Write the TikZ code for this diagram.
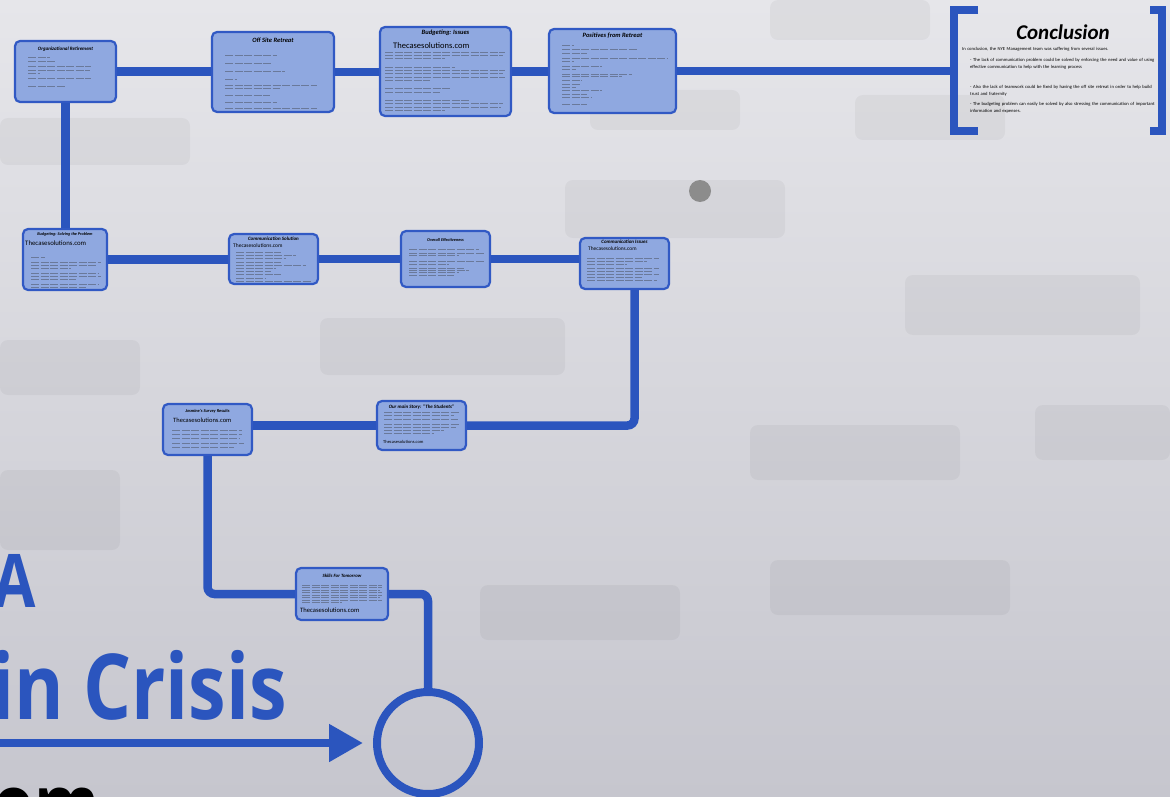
\documentclass[tikz,border=0pt]{standalone}
\usepackage{fontspec}
\setmainfont{Carlito}
\newfontfamily\headfont{Open Sans}
\usetikzlibrary{arrows.meta}

\definecolor{trackblue}{HTML}{2B55BE}
\definecolor{cardfill}{HTML}{8FA8E0}
\definecolor{cardedge}{HTML}{3159C4}
\definecolor{bgtop}{HTML}{E6E6EA}
\definecolor{bgbot}{HTML}{C6C6CE}

\pgfdeclarelayer{back}
\pgfsetlayers{back,main}

\tikzset{
  card/.style={draw=cardedge, line width=2.2pt, fill=cardfill, rounded corners=5pt,
    anchor=north west, inner sep=0pt, outer sep=0pt},
  track/.style={draw=trackblue, line width=8.5pt, rounded corners=7pt},
  ctitle/.style={anchor=north, inner sep=0pt, font=\bfseries\itshape\fontsize{#1}{#1}\selectfont},
  ctitle/.default=5,
  website/.style={anchor=north west, inner sep=0pt, font=\fontsize{#1}{#1}\selectfont},
  txtline/.style={draw=black!80, line width=0.6pt, opacity=0.4, dash pattern=on 8pt off 1.5pt},
  ghost/.style={fill=black, opacity=0.04, rounded corners=8pt},
  bigword/.style={text=trackblue, inner sep=0pt, xscale=0.83},
  concbody/.style={anchor=north west, inner sep=0pt, text width=#1,
    font=\fontsize{4.6}{7}\selectfont},
}

% rows of unreadable body text
\newcommand{\textrows}[2]{\foreach \ry/\rw in {#2} {\draw[txtline] (#1,\ry) -- ++(\rw,0);}}

\begin{document}
\begin{tikzpicture}[x=1pt, y=-1pt]
\useasboundingbox (0,0) rectangle (1170,797);

\begin{pgfonlayer}{back}
  \shade[top color=bgtop, bottom color=bgbot] (0,0) rectangle (1170,797);
  \foreach \ax/\ay/\bx/\by in {0/118/190/165, 770/0/930/40, 855/95/1005/140,
      590/90/740/130, 565/180/785/238, 905/275/1140/335, 320/318/565/375,
      0/340/140/395, 1035/405/1170/460, 750/425/960/480, 0/470/120/550,
      770/560/1010/615, 480/585/680/640}
    \fill[ghost] (\ax,\ay) rectangle (\bx,\by);
  \fill[black!45] (700,191) circle (11);
\end{pgfonlayer}

% cards, top row
\node[card, minimum width=101pt, minimum height=61pt] (orgret) at (15,41) {};
\node[card, minimum width=122pt, minimum height=80pt] (offsite) at (212,32) {};
\node[card, minimum width=131pt, minimum height=89pt] (budiss) at (380,27) {};
\node[card, minimum width=127pt, minimum height=84pt] (posret) at (549,29) {};
% second row
\node[card, minimum width=84pt, minimum height=61pt] (budsolv) at (23,229) {};
\node[card, minimum width=89pt, minimum height=50pt] (commsol) at (229,234) {};
\node[card, minimum width=89pt, minimum height=56pt] (overall) at (401,231) {};
\node[card, minimum width=89pt, minimum height=51pt] (commiss) at (580,238) {};
% third row
\node[card, minimum width=89pt, minimum height=51pt] (jasmine) at (163,404) {};
\node[card, minimum width=89pt, minimum height=49pt] (mainstory) at (377,401) {};
\node[card, minimum width=92pt, minimum height=52pt] (skills) at (296,568) {};

\node[draw=trackblue, line width=8pt, circle, minimum size=102pt, inner sep=0pt] (crcl) at (428,743) {};
\coordinate (lbr) at (954,71);
\coordinate (arrowstart) at (-10,743);

\begin{pgfonlayer}{back}
  \draw[track] (orgret.east) -- (offsite.west |- orgret.east);
  \draw[track] (offsite.east) -- (budiss.west |- offsite.east);
  \draw[track] (budiss.east) -- (posret.west |- budiss.east);
  \draw[track] (posret.east) -- (lbr |- posret.east);
  \draw[track] (orgret.south) -- (orgret.south |- budsolv.north);
  \draw[track] (budsolv.east) -- (commsol.west |- budsolv.east);
  \draw[track] (commsol.east) -- (overall.west |- commsol.east);
  \draw[track] (overall.east) -- (commiss.west |- overall.east);
  \draw[track] ([xshift=10pt]commiss.south) |- (mainstory.east);
  \draw[track] (mainstory.west) -- (jasmine.east |- mainstory.west);
  \draw[track] (jasmine.south) |- (skills.west);
  \draw[track] (skills.east) -| (crcl.north);
\end{pgfonlayer}
\draw[track, line width=8pt, -{Triangle[length=34pt, width=36pt]}, shorten >=10pt] (arrowstart) -- (crcl.west);

% conclusion brackets
\draw[track, rounded corners=0pt] (978,10) -- (954,10) -- (954,131) -- (978,131);
\draw[track, rounded corners=0pt] (1150,10) -- (1162,10) -- (1162,131) -- (1150,131);

% titles
\node[ctitle=5] (orgret-t) at ([yshift=-6pt]orgret.north) {Organizational Retirement};
\node[ctitle=6.5] (offsite-t) at ([yshift=-6pt]offsite.north) {Off Site Retreat};
\node[ctitle=6.5] (budiss-t) at ([yshift=-2.5pt]budiss.north) {Budgeting: Issues};
\node[ctitle=6.5] (posret-t) at ([yshift=-4pt]posret.north) {Positives from Retreat};
\node[ctitle=4.2] (budsolv-t) at ([yshift=-3.5pt]budsolv.north) {Budgeting: Solving the Problem};
\node[ctitle=5] (commsol-t) at ([yshift=-2.5pt]commsol.north) {Communication Solution};
\node[ctitle=4.3] (overall-t) at ([yshift=-7pt]overall.north) {Overall Effectiveness};
\node[ctitle=5] (commiss-t) at ([yshift=-2pt]commiss.north) {Communication Issues};
\node[ctitle=4.4] (jasmine-t) at ([yshift=-5pt]jasmine.north) {Jasmine's Survey Results};
\node[ctitle=5] (mainstory-t) at ([yshift=-3.5pt]mainstory.north) {Our main Story: ``The Students''};
\node[ctitle=4.8] (skills-t) at ([yshift=-5.5pt]skills.north) {Skills For Tomorrow};

% web address lines
\node[website=8.5] (budiss-w) at (393,42) {Thecasesolutions.com};
\node[website=6.8] (budsolv-w) at (25,241) {Thecasesolutions.com};
\node[website=5.5] (commsol-w) at (233,243) {Thecasesolutions.com};
\node[website=5.4] (commiss-w) at (588,247) {Thecasesolutions.com};
\node[website=6.5] (jasmine-w) at (173,418) {Thecasesolutions.com};
\node[website=4.5] (mainstory-w) at (383,440) {Thecasesolutions.com};
\node[website=6.6] (skills-w) at (300,608) {Thecasesolutions.com};

% body rows
\textrows{28}{57/22, 61/27, 66/63, 70/62, 73/12, 78/63, 86/37}
\textrows{225}{55/52, 63/47, 71/60, 79/12, 85/92, 88/55, 95/45, 102/52, 108/92}
\textrows{385}{52/120, 55/118, 58/60, 67/70, 70/120, 73/118, 77/120, 80/45, 88/65, 92/55, 100/85, 103/118, 107/116, 110/60}
\textrows{562}{45/12, 49/75, 53/25, 58/105, 61/12, 66/40, 69/14, 74/70, 76/60, 80/20, 84/18, 87/14, 90/40, 94/25, 97/30, 104/25}
\textrows{31}{257/14, 262/70, 265/65, 268/40, 273/68, 276/70, 279/45, 284/68, 287/55}
\textrows{236}{252/45, 255/60, 258/50, 262/45, 265/70, 268/40, 271/35, 274/45, 278/30, 281/75}
\textrows{409}{249/70, 253/75, 255/50, 261/75, 264/40, 268/55, 270/60, 272/50, 275/45}
\textrows{587}{258/72, 261/60, 264/40, 268/72, 271/65, 274/72, 277/55, 280/70}
\textrows{172}{430/70, 434/70, 438/68, 443/72, 447/62}
\textrows{384}{412/76, 415/70, 419/74, 424/76, 427/72, 430/60, 433/50}
\textrows{302}{585/80, 587/80, 590/78, 592/80, 595/80, 597/78, 600/80, 602/40}

% conclusion
\node[inner sep=0pt, font=\bfseries\itshape\fontsize{21}{21}\selectfont] (conc-t) at (1063,32) {Conclusion};
\node[concbody=200pt] (conc-a) at (962,47) {In conclusion, the NYE Management team was suffering from several issues.};
\node[concbody=186pt] (conc-b) at (970,58) {\hangindent=4pt\hangafter=1 - The lack of communication problem could be solved by enforcing the need and value of using effective communication to help with the learning process};
\node[concbody=186pt] (conc-c) at (970,85) {\hangindent=4pt\hangafter=1 - Also the lack of teamwork could be fixed by having the off site retreat in order to help build trust and fraternity};
\node[concbody=186pt] (conc-d) at (970,102) {\hangindent=4pt\hangafter=1 - The budgeting problem can easily be solved by also stressing the communication of important information and expenses.};

% big title words
\node[bigword, anchor=base east, font=\headfont\bfseries\fontsize{74}{74}\selectfont] (bigA) at (36,607) {A};
\node[bigword, anchor=base west, font=\headfont\bfseries\fontsize{91}{91}\selectfont] (crisis) at (-9,719) {in Crisis};
\node[bigword, text=black, anchor=base east, font=\headfont\bfseries\fontsize{80}{80}\selectfont] (bigcom) at (100,832) {.com};
\end{tikzpicture}
\end{document}
